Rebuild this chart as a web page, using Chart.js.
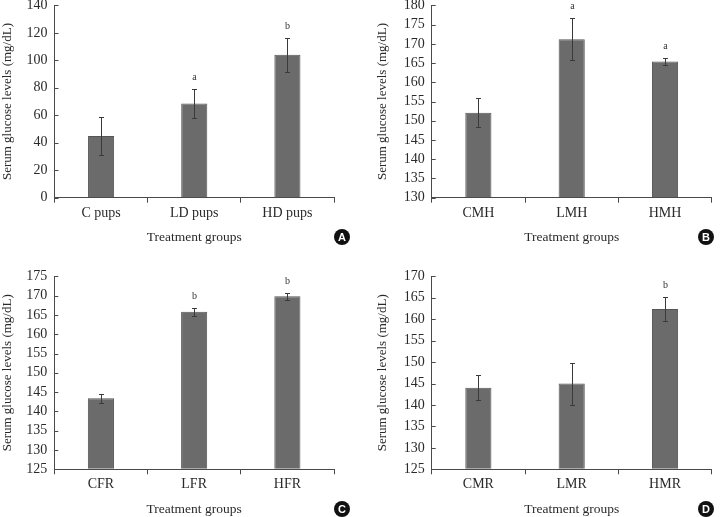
<!DOCTYPE html>
<html><head><meta charset="utf-8">
<script src="https://cdn.jsdelivr.net/npm/chart.js@4/dist/chart.umd.min.js"></script>
<style>
html,body{margin:0;padding:0;background:#fff;width:728px;height:517px;overflow:hidden;position:relative}
.panel{position:absolute}
.badge{position:absolute;width:16px;height:16px;border-radius:50%;background:#111;color:#fff;font:bold 11px 'Liberation Sans',Arial,sans-serif;text-align:center;line-height:16px}
</style></head><body>
<div class="panel" id="pA"><canvas id="cA"></canvas></div>
<div class="panel" id="pB"><canvas id="cB"></canvas></div>
<div class="panel" id="pC"><canvas id="cC"></canvas></div>
<div class="panel" id="pD"><canvas id="cD"></canvas></div>
<div class="badge" style="left:334px;top:229px">A</div>
<div class="badge" style="left:698px;top:229px">B</div>
<div class="badge" style="left:334px;top:501px">C</div>
<div class="badge" style="left:698px;top:501px">D</div>
<script>
// ---- data ----
const labelsA = ['C pups', 'LD pups', 'HD pups'];
const valuesA = [45, 68.5, 104];
const errorsA = [14, 10.5, 12.6];
const lettersA = ['', 'a', 'b'];
const ticksA = {min: 0, max: 140, step: 20};

const labelsB = ['CMH', 'LMH', 'HMH'];
const valuesB = [152.1, 171.2, 165.4];
const errorsB = [3.8, 5.5, 1.0];
const lettersB = ['', 'a', 'a'];
const ticksB = {min: 130, max: 180, step: 5};

const labelsC = ['CFR', 'LFR', 'HFR'];
const valuesC = [143.4, 165.8, 169.8];
const errorsC = [1.2, 1.1, 1.0];
const lettersC = ['', 'b', 'b'];
const ticksC = {min: 125, max: 175, step: 5};

const labelsD = ['CMR', 'LMR', 'HMR'];
const valuesD = [144.0, 145.0, 162.4];
const errorsD = [2.9, 4.9, 2.8];
const lettersD = ['', '', 'b'];
const ticksD = {min: 125, max: 170, step: 5};

const yTitle = 'Serum glucose levels (mg/dL)';
const xTitle = 'Treatment groups';

// ---- layout (page coords) ----
const FONT = "'Liberation Serif', 'Times New Roman', serif";
const INK = '#2a2a2a';
const AXIS = '#4a4a4a';
const CW = 364, CH = 280, XH = 48;

const extras = {
  id: 'extras',
  afterDatasetsDraw(chart) {
    const ctx = chart.ctx, y = chart.scales.y;
    const ds = chart.data.datasets[0];
    const meta = chart.getDatasetMeta(0);
    ctx.save();
    ctx.strokeStyle = '#3a3a3a';
    ctx.lineWidth = 1;
    meta.data.forEach((bar, i) => {
      const v = ds.data[i], e = ds.errors[i];
      const x = Math.round(bar.x) + 0.5;
      const yt = Math.round(y.getPixelForValue(v + e)) + 0.5;
      const yb = Math.round(y.getPixelForValue(v - e)) + 0.5;
      ctx.beginPath();
      ctx.moveTo(x, yt); ctx.lineTo(x, yb);
      ctx.moveTo(x - 2.5, yt); ctx.lineTo(x + 2.5, yt);
      ctx.moveTo(x - 2.5, yb); ctx.lineTo(x + 2.5, yb);
      ctx.stroke();
      if (ds.letters[i]) {
        ctx.fillStyle = '#333';
        ctx.font = '10px ' + FONT;
        ctx.textAlign = 'center';
        ctx.textBaseline = 'middle';
        ctx.fillText(ds.letters[i], x, yt - 12);
      }
    });
    ctx.strokeStyle = AXIS;
    const xa = chart.chartArea.left;
    y.ticks.forEach(t => {
      const py = Math.round(y.getPixelForValue(t.value)) + 0.5;
      ctx.beginPath(); ctx.moveTo(xa, py); ctx.lineTo(xa + 4, py); ctx.stroke();
    });
    ctx.restore();
  }
};

function makePanel(id, canvasLeft, canvasTop, area, padLeft, labels, values, errors, letters, t) {
  const div = document.getElementById('p' + id);
  div.style.left = canvasLeft + 'px';
  div.style.top = canvasTop + 'px';
  const cv = document.getElementById('c' + id);
  cv.width = CW; cv.height = CH;
  cv.style.width = CW + 'px'; cv.style.height = CH + 'px';
  const yW = area.l - canvasLeft - padLeft;
  const padRight = CW - (area.r - canvasLeft);
  const padTop = area.t - canvasTop;
  const padBottom = CH - (area.b + XH - canvasTop);
  new Chart(cv, {
    type: 'bar',
    data: {
      labels: labels,
      datasets: [{
        data: values,
        errors: errors,
        letters: letters,
        base: t.min,
        backgroundColor: '#6b6b6b',
        borderColor: '#555555',
        borderWidth: 1,
        categoryPercentage: 1,
        barPercentage: 0.28
      }]
    },
    options: {
      responsive: false,
      animation: false,
      devicePixelRatio: 1,
      layout: {padding: {left: padLeft, right: padRight, top: padTop, bottom: padBottom}},
      plugins: {legend: {display: false}, tooltip: {enabled: false}},
      scales: {
        x: {
          afterFit: s => { s.height = XH; },
          grid: {display: true, drawOnChartArea: false, drawTicks: true, tickLength: 5, color: AXIS, offset: true},
          border: {display: true, color: AXIS, width: 1},
          ticks: {font: {family: FONT, size: 14}, color: INK, padding: 2, maxRotation: 0},
          title: {display: true, text: xTitle, font: {family: FONT, size: 13.5}, color: INK, padding: {top: 0, bottom: 0}}
        },
        y: {
          min: t.min, max: t.max,
          afterFit: s => { s.width = yW; },
          grid: {display: true, drawOnChartArea: false, drawTicks: false},
          border: {display: true, color: AXIS, width: 1},
          ticks: {stepSize: t.step, autoSkip: false, font: {family: FONT, size: 14}, color: INK, padding: 7},
          title: {display: true, text: yTitle, font: {family: FONT, size: 13}, color: INK, padding: {top: 0, bottom: 0}}
        }
      }
    },
    plugins: [extras]
  });
}

makePanel('A', 0, -10, {l: 54.5, r: 334, t: 4, b: 197.7}, 0, labelsA, valuesA, errorsA, lettersA, ticksA);
makePanel('B', 364, -10, {l: 431.7, r: 711.7, t: 4.7, b: 197.7}, 11, labelsB, valuesB, errorsB, lettersB, ticksB);
makePanel('C', 0, 248, {l: 54.3, r: 334, t: 276.3, b: 469.3}, 0, labelsC, valuesC, errorsC, lettersC, ticksC);
makePanel('D', 364, 248, {l: 431.7, r: 711.7, t: 276.3, b: 469.3}, 11, labelsD, valuesD, errorsD, lettersD, ticksD);
</script>
</body></html>
